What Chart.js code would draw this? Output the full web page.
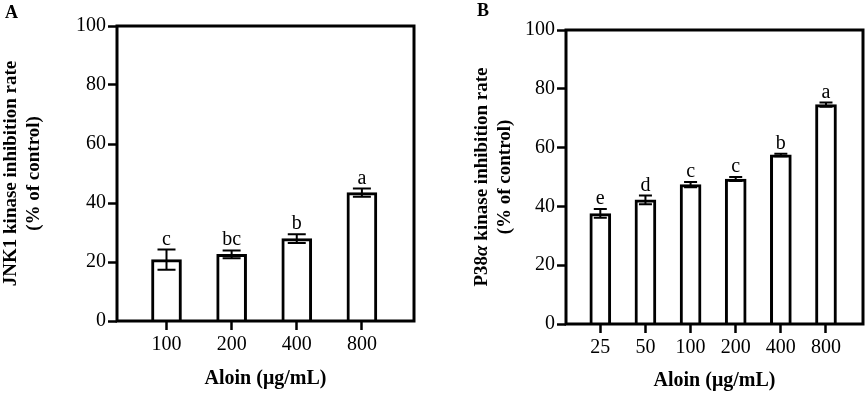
<!DOCTYPE html>
<html>
<head>
<meta charset="utf-8">
<script src="https://cdn.jsdelivr.net/npm/chart.js@4.4.0/dist/chart.umd.min.js"></script>
<style>
body { margin: 0; background: #fff; }
#wrap { position: relative; width: 865px; height: 393px; }
.panel { position: absolute; top: 0; }
.tag { position: absolute; font: bold 18px "Liberation Serif", serif; color: #000; line-height: 18px; }
</style>
</head>
<body>
<div id="wrap">
  <div class="panel" style="left:0"><canvas id="chartA" width="432" height="393"></canvas></div>
  <div class="panel" style="left:432px"><canvas id="chartB" width="433" height="393"></canvas></div>
  <div class="tag" style="left:5px;top:3px">A</div>
  <div class="tag" style="left:477px;top:1px">B</div>
</div>
<script>
// panel A - JNK1
var dosesA = ["100", "200", "400", "800"]
var jnkMean = [20.8, 22.6, 27.9, 43.5]
var jnkErr = [3.4, 1.3, 1.5, 1.4]
var jnkSig = ["c", "bc", "b", "a"]

// panel B - P38a
var dosesB = ["25", "50", "100", "200", "400", "800"]
var p38Mean = [37.6, 42.2, 47.4, 49.3, 57.5, 74.6]
var p38Err = [1.5, 1.5, 0.9, 0.7, 0.4, 0.7]
var p38Sig = ["e", "d", "c", "c", "b", "a"]

var yTicks = [0, 20, 40, 60, 80, 100]

var serif = '"Liberation Serif", "Times New Roman", serif'

// error bars + significance letters
const errPlugin = {
    id: 'errbars',
    afterDatasetsDraw(chart, args, opts) {
        const ctx = chart.ctx
        const xs = chart.scales.x, ys = chart.scales.y
        ctx.save()
        ctx.strokeStyle = '#000'
        ctx.lineWidth = 2
        ctx.fillStyle = '#000'
        ctx.font = '20px ' + serif
        ctx.textAlign = 'center'
        ctx.textBaseline = 'alphabetic'
        for (let i = 0; i < opts.mean.length; i++) {
            const x = xs.getPixelForValue(i)
            const top = ys.getPixelForValue(opts.mean[i] + opts.err[i])
            const bot = ys.getPixelForValue(opts.mean[i] - opts.err[i])
            const h = opts.cap / 2
            ctx.beginPath()
            ctx.moveTo(x, top); ctx.lineTo(x, bot)
            ctx.moveTo(x - h, top); ctx.lineTo(x + h, top)
            ctx.moveTo(x - h, bot); ctx.lineTo(x + h, bot)
            ctx.stroke()
            ctx.fillText(opts.sig[i], x, top - 5)
        }
        ctx.restore()
    }
}

// box around the plot + y title with mixed (italic) pieces
const framePlugin = {
    id: 'frame',
    afterDraw(chart, args, opts) {
        const a = chart.chartArea, ctx = chart.ctx
        ctx.save()
        ctx.strokeStyle = '#000'
        ctx.lineWidth = 3
        ctx.strokeRect(a.left, a.top, a.right - a.left, a.bottom - a.top)
        if (opts.lines) {
            const lh = 22.8
            let x = chart.scales.y.left + lh / 2
            ctx.translate(0, (a.top + a.bottom) / 2)
            ctx.fillStyle = '#000'
            ctx.textBaseline = 'middle'
            ctx.textAlign = 'left'
            opts.lines.forEach(parts => {
                let w = 0
                parts.forEach(p => { ctx.font = p[1] + ' 19px ' + serif; w += ctx.measureText(p[0]).width })
                ctx.save()
                ctx.translate(x, 0)
                ctx.rotate(-Math.PI / 2)
                let pos = -w / 2
                parts.forEach(p => {
                    ctx.font = p[1] + ' 19px ' + serif
                    ctx.fillText(p[0], pos, 0)
                    pos += ctx.measureText(p[0]).width
                })
                ctx.restore()
                x += lh
            })
        }
        ctx.restore()
    }
}

function makeChart(id, labels, mean, err, sig, opt) {
    return new Chart(document.getElementById(id), {
        type: 'bar',
        data: {
            datasets: [{
                data: mean.map((v, i) => ({ x: i, y: v })),
                backgroundColor: '#fff',
                borderColor: '#000',
                borderWidth: 3,
                barThickness: opt.barW
            }]
        },
        options: {
            responsive: false,
            animation: false,
            layout: { padding: { left: opt.padL, top: opt.padT, right: opt.padR, bottom: opt.padB } },
            plugins: {
                legend: { display: false },
                tooltip: { enabled: false },
                errbars: { mean: mean, err: err, sig: sig, cap: opt.cap },
                frame: { lines: opt.richTitle }
            },
            scales: {
                x: {
                    type: 'linear',
                    min: -0.76,
                    max: labels.length - 1 + opt.xRight,
                    offset: false,
                    afterBuildTicks: s => { s.ticks = labels.map((l, i) => ({ value: i })) },
                    afterFit: s => { s.height = opt.xH },
                    ticks: {
                        callback: (v, i) => labels[i],
                        autoSkip: false, maxRotation: 0,
                        color: '#000', font: { family: serif, size: 20 }, padding: 3
                    },
                    grid: { display: true, offset: false, drawOnChartArea: false, tickLength: 9, tickWidth: 2.5, tickColor: '#000' },
                    border: { display: false },
                    title: {
                        display: true, text: 'Aloin (μg/mL)', color: '#000',
                        font: { family: serif, size: 20, weight: 'bold' }, padding: 0
                    }
                },
                y: {
                    min: 0, max: 100,
                    afterBuildTicks: s => { s.ticks = yTicks.map(v => ({ value: v })) },
                    afterFit: s => { s.width = opt.yW },
                    ticks: { color: '#000', font: { family: serif, size: 20 }, padding: 2 },
                    grid: { display: true, drawOnChartArea: false, tickLength: 9, tickWidth: 2.5, tickColor: '#000' },
                    border: { display: false },
                    title: {
                        display: !!opt.yTitle, text: opt.yTitle || '', color: '#000',
                        font: { family: serif, size: 19, weight: 'bold' }, padding: 0
                    }
                }
            }
        },
        plugins: [errPlugin, framePlugin]
    })
}

makeChart('chartA', dosesA, jnkMean, jnkErr, jnkSig, {
    barW: 30, cap: 18, padL: 0, padT: 26, padR: 18, padB: 2, yW: 117, xH: 70, xRight: 0.8,
    yTitle: ['JNK1 kinase inhibition rate', '(% of control)']
})
makeChart('chartB', dosesB, p38Mean, p38Err, p38Sig, {
    barW: 21, cap: 13, padL: 39, padT: 30, padR: 2, padB: 0, yW: 95, xH: 69, xRight: 0.82,
    richTitle: [
        [['P38', 'bold'], ['α', 'italic bold'], [' kinase inhibition rate', 'bold']],
        [['(% of control)', 'bold']]
    ]
})
</script>
</body>
</html>
